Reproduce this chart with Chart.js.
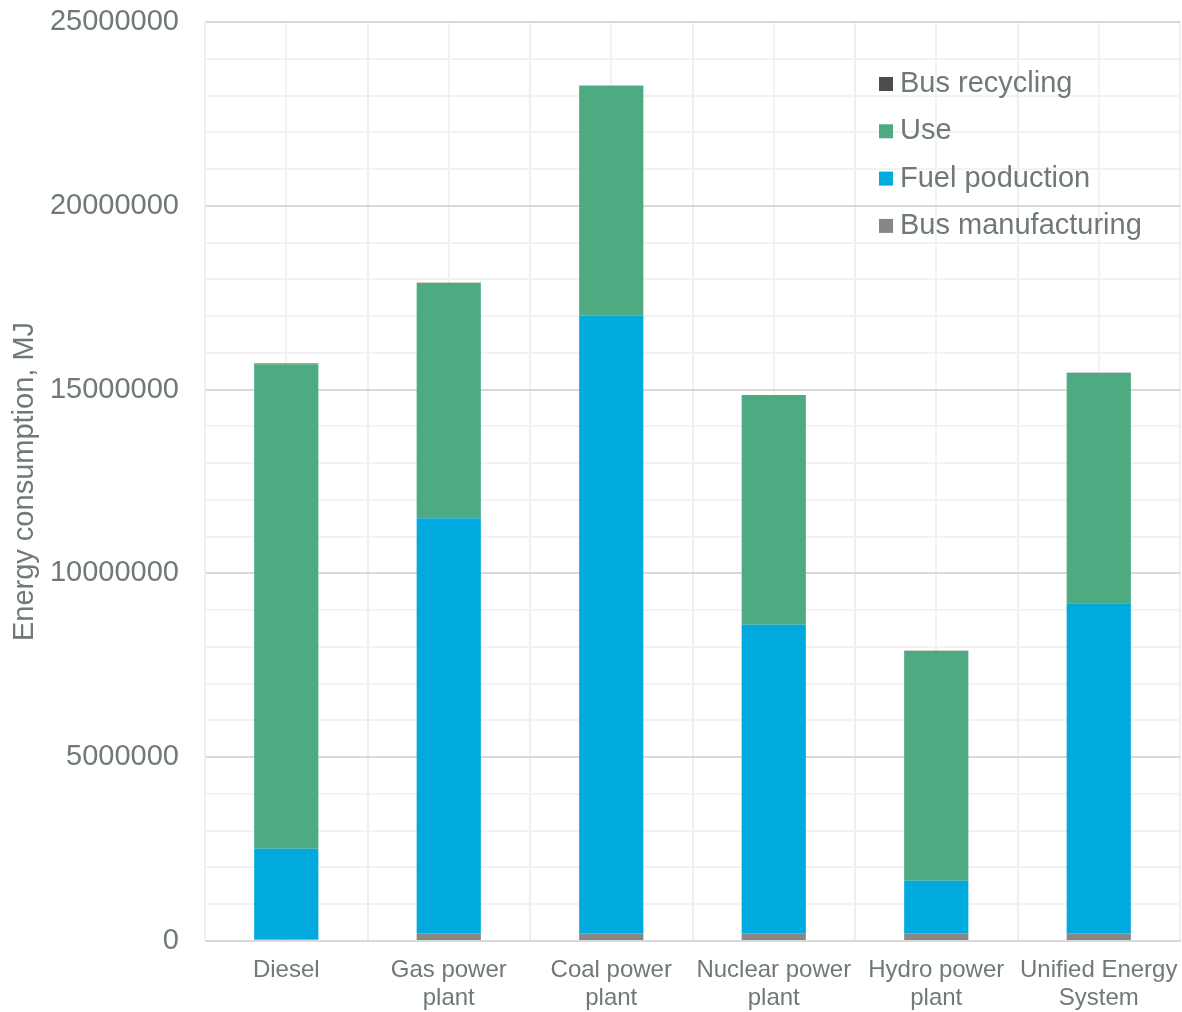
<!DOCTYPE html>
<html>
<head>
<meta charset="utf-8">
<script src="https://cdn.jsdelivr.net/npm/chart.js"></script>
<style>
  html, body { margin: 0; padding: 0; background: #fff; }
  #wrap { width: 1182px; height: 1012px; }
</style>
</head>
<body>
<div id="wrap"><canvas id="energyChart" width="1182" height="1012"></canvas></div>
<script>
// categories (two-line tick labels)
const categories = [
  ['Diesel'],
  ['Gas power', 'plant'],
  ['Coal power', 'plant'],
  ['Nuclear power', 'plant'],
  ['Hydro power', 'plant'],
  ['Unified Energy', 'System']
];

// series values, MJ
const busManufacturing = [40000, 210000, 210000, 210000, 210000, 210000];
const fuelProduction   = [2470000, 11290000, 16800000, 8390000, 1430000, 8980000];
const useStage         = [13180000, 6400000, 6260000, 6250000, 6250000, 6260000];
const busRecycling     = [20000, 5000, 5000, 5000, 5000, 5000];

const yTicksMajor = [0, 5000000, 10000000, 15000000, 20000000, 25000000];

const textColor = '#6f7979';
const fontFam = '"Liberation Sans", Arial, sans-serif';

// legend inside plot, top right, reversed order
const innerLegend = {
  id: 'innerLegend',
  afterDraw(chart) {
    const ctx = chart.ctx;
    const sets = chart.data.datasets.slice().reverse();
    ctx.save();
    ctx.font = '29px ' + fontFam;
    ctx.textBaseline = 'middle';
    ctx.textAlign = 'left';
    sets.forEach((ds, i) => {
      const y = 84 + i * 47.3;
      ctx.fillStyle = ds.backgroundColor;
      ctx.fillRect(879, y - 7, 14, 14);
      ctx.fillStyle = textColor;
      ctx.fillText(ds.label, 900, y);
    });
    ctx.restore();
  }
};

new Chart(document.getElementById('energyChart').getContext('2d'), {
  type: 'bar',
  data: {
    labels: categories,
    datasets: [
      { label: 'Bus manufacturing', data: busManufacturing, backgroundColor: '#878787' },
      { label: 'Fuel poduction', data: fuelProduction, backgroundColor: '#00aadf' },
      { label: 'Use', data: useStage, backgroundColor: '#4eaa80' },
      { label: 'Bus recycling', data: busRecycling, backgroundColor: '#4d4d4d' }
    ]
  },
  options: {
    responsive: false,
    animation: false,
    layout: { padding: { top: 22, right: 2, left: 0, bottom: 0 } },
    datasets: { bar: { barPercentage: 0.395, categoryPercentage: 1 } },
    plugins: {
      legend: { display: false },
      tooltip: { enabled: false }
    },
    scales: {
      x: {
        stacked: true,
        offset: true,
        grid: { offset: true, color: '#efefef', lineWidth: 2, drawTicks: false },
        border: { color: '#d9d9d9', width: 2 },
        ticks: {
          color: textColor,
          font: { family: fontFam, size: 24, lineHeight: 1.15 },
          padding: 16,
          maxRotation: 0,
          autoSkip: false
        },
        afterFit(scale) {
          scale.height = 71;
          scale.paddingLeft = 0;
          scale.paddingRight = 0;
        }
      },
      x2: {
        labels: categories,
        offset: true,
        position: 'bottom',
        grid: { offset: false, color: '#f2f2f2', lineWidth: 2, drawTicks: false },
        border: { display: false },
        ticks: { display: false },
        afterFit(scale) {
          scale.height = 0;
          scale.paddingLeft = 0;
          scale.paddingRight = 0;
        }
      },
      y: {
        stacked: true,
        min: 0,
        max: 25000000,
        border: { color: '#efefef', width: 2 },
        grid: {
          drawTicks: false,
          lineWidth: 2,
          color: c => (yTicksMajor.includes(c.tick.value) ? '#d9d9d9' : '#f2f2f2')
        },
        ticks: {
          stepSize: 1000000,
          autoSkip: false,
          padding: 26,
          color: textColor,
          font: { family: fontFam, size: 29 },
          callback: v => (yTicksMajor.includes(v) ? String(v) : '')
        },
        title: {
          display: true,
          text: 'Energy consumption, MJ',
          color: textColor,
          font: { family: fontFam, size: 29 },
          padding: { top: 8, bottom: 0 }
        },
        afterFit(scale) {
          scale.width = 205;
          scale.paddingTop = 0;
          scale.paddingBottom = 0;
        }
      }
    }
  },
  plugins: [innerLegend]
});
</script>
</body>
</html>
